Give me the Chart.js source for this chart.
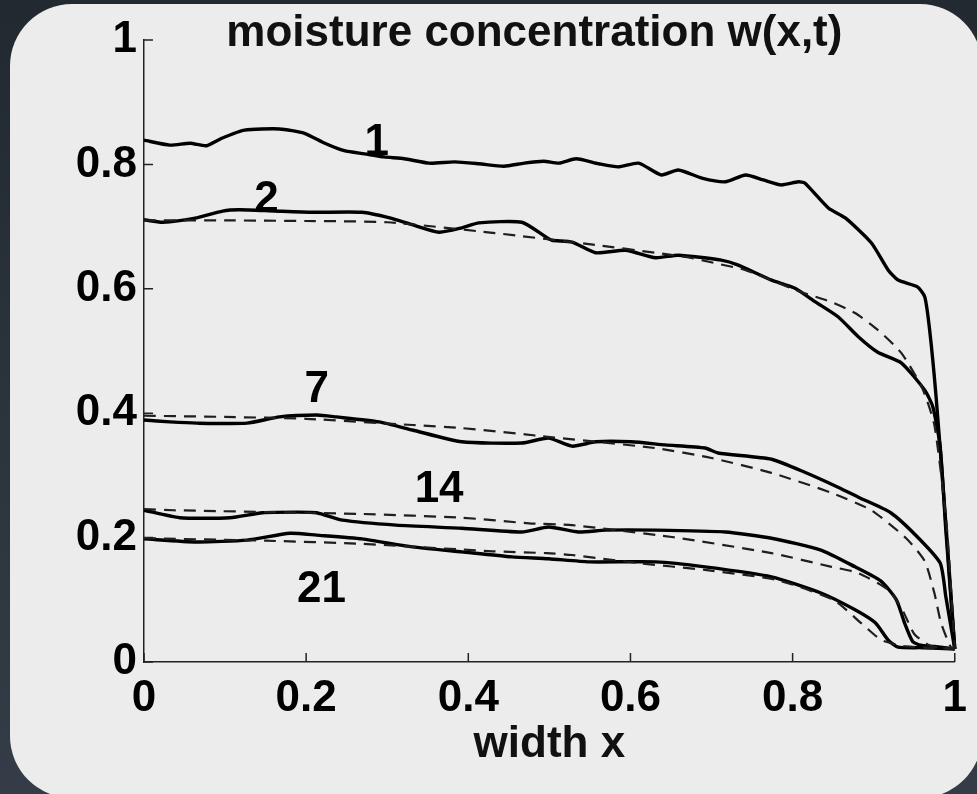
<!DOCTYPE html>
<html>
<head>
<meta charset="utf-8">
<script src="https://cdn.jsdelivr.net/npm/chart.js@4"></script>
<style>
  html, body { margin: 0; padding: 0; }
  body {
    width: 977px; height: 794px; overflow: hidden; position: relative;
    background: linear-gradient(#222930, #343d47);
  }
  #panel {
    position: absolute; left: 10px; top: 4px; width: 972px; height: 794px;
    background: #ececec; border-radius: 62px;
  }
  #wrap { position: absolute; left: 0; top: 0; width: 977px; height: 794px; }
</style>
</head>
<body>
<div id="panel"></div>
<div id="wrap"><canvas id="moistureChart" width="977" height="794"></canvas></div>
<script>
// measured profiles, one per day (solid) and model fits (dashed)
const curve1X = [0, 0.032, 0.057, 0.077, 0.096, 0.124, 0.167, 0.198, 0.223, 0.247, 0.272, 0.296, 0.321, 0.352, 0.383, 0.413, 0.444, 0.469, 0.493, 0.512, 0.533, 0.561, 0.585, 0.610, 0.638, 0.659, 0.688, 0.717, 0.742, 0.764, 0.786, 0.807, 0.815, 0.844, 0.865, 0.897, 0.918, 0.930, 0.954, 0.963, 0.969, 0.977, 0.988, 1.0];
const curve1Y = [0.839, 0.831, 0.834, 0.830, 0.842, 0.855, 0.857, 0.850, 0.834, 0.822, 0.817, 0.812, 0.809, 0.802, 0.804, 0.801, 0.797, 0.802, 0.805, 0.802, 0.809, 0.801, 0.796, 0.802, 0.783, 0.791, 0.778, 0.772, 0.783, 0.775, 0.767, 0.772, 0.770, 0.730, 0.714, 0.674, 0.630, 0.614, 0.603, 0.587, 0.534, 0.426, 0.240, 0.021];

const curve2X = [0, 0.023, 0.065, 0.097, 0.118, 0.161, 0.208, 0.269, 0.303, 0.331, 0.364, 0.392, 0.413, 0.466, 0.496, 0.503, 0.528, 0.557, 0.594, 0.631, 0.659, 0.712, 0.733, 0.774, 0.803, 0.828, 0.856, 0.881, 0.905, 0.934, 0.963, 0.973, 0.982, 0.989, 1.0];
const curve2Y = [0.711, 0.707, 0.714, 0.725, 0.727, 0.725, 0.723, 0.723, 0.714, 0.703, 0.691, 0.698, 0.706, 0.707, 0.683, 0.678, 0.675, 0.658, 0.662, 0.650, 0.654, 0.646, 0.638, 0.614, 0.601, 0.579, 0.555, 0.523, 0.498, 0.481, 0.437, 0.410, 0.346, 0.212, 0.021];
const model2X = [0, 0.1, 0.2, 0.3, 0.43, 0.56, 0.63, 0.67, 0.705, 0.742, 0.81, 0.847, 0.877, 0.905, 0.934, 0.96, 0.975, 0.99, 1.0];
const model2Y = [0.710, 0.710, 0.709, 0.707, 0.690, 0.670, 0.658, 0.651, 0.641, 0.630, 0.595, 0.579, 0.561, 0.534, 0.497, 0.440, 0.380, 0.220, 0.021];

const curve7X = [0, 0.032, 0.065, 0.127, 0.167, 0.213, 0.237, 0.290, 0.331, 0.392, 0.466, 0.499, 0.528, 0.557, 0.601, 0.643, 0.692, 0.708, 0.774, 0.815, 0.856, 0.881, 0.921, 0.954, 0.982, 0.989, 1.0];
const curve7Y = [0.389, 0.386, 0.384, 0.384, 0.394, 0.397, 0.394, 0.386, 0.373, 0.354, 0.352, 0.360, 0.347, 0.354, 0.354, 0.349, 0.344, 0.336, 0.326, 0.305, 0.281, 0.265, 0.240, 0.201, 0.159, 0.105, 0.021];
const model7X = [0, 0.1, 0.2, 0.331, 0.392, 0.47, 0.49, 0.63, 0.70, 0.774, 0.848, 0.897, 0.94, 0.963, 0.975, 0.983, 0.995, 1.0];
const model7Y = [0.396, 0.394, 0.391, 0.381, 0.376, 0.366, 0.363, 0.344, 0.328, 0.304, 0.272, 0.244, 0.199, 0.162, 0.110, 0.063, 0.024, 0.021];

const curve14X = [0, 0.044, 0.106, 0.146, 0.188, 0.213, 0.245, 0.311, 0.392, 0.466, 0.499, 0.536, 0.569, 0.631, 0.717, 0.774, 0.835, 0.877, 0.909, 0.928, 0.938, 0.948, 0.958, 0.975, 1.0];
const curve14Y = [0.244, 0.232, 0.232, 0.240, 0.241, 0.240, 0.228, 0.220, 0.215, 0.209, 0.217, 0.209, 0.212, 0.212, 0.209, 0.199, 0.180, 0.153, 0.130, 0.100, 0.063, 0.033, 0.027, 0.025, 0.021];
const model14X = [0, 0.036, 0.269, 0.392, 0.475, 0.528, 0.651, 0.774, 0.848, 0.881, 0.918, 0.935, 0.95, 0.97, 1.0];
const model14Y = [0.246, 0.244, 0.238, 0.232, 0.223, 0.220, 0.201, 0.175, 0.153, 0.143, 0.116, 0.085, 0.045, 0.026, 0.021];

const curve21X = [0, 0.065, 0.127, 0.180, 0.213, 0.269, 0.331, 0.392, 0.454, 0.499, 0.549, 0.631, 0.692, 0.774, 0.835, 0.877, 0.902, 0.918, 0.930, 0.960, 1.0];
const curve21Y = [0.198, 0.193, 0.196, 0.207, 0.204, 0.198, 0.185, 0.177, 0.169, 0.166, 0.161, 0.161, 0.153, 0.137, 0.111, 0.084, 0.063, 0.035, 0.024, 0.023, 0.021];
const model21X = [0, 0.15, 0.269, 0.43, 0.497, 0.528, 0.61, 0.692, 0.78, 0.85, 0.885, 0.91, 0.94, 1.0];
const model21Y = [0.199, 0.195, 0.190, 0.178, 0.175, 0.172, 0.159, 0.148, 0.132, 0.100, 0.062, 0.035, 0.025, 0.021];

// curve labels (days), placed at their baseline in data units
const dayLabels = ['1', '2', '7', '14', '21'];
const dayLabelX = [0.287, 0.151, 0.213, 0.364, 0.219];
const dayLabelY = [0.815, 0.723, 0.418, 0.257, 0.096];

const xTicks = [0, 0.2, 0.4, 0.6, 0.8, 1];
const yTicks = [0, 0.2, 0.4, 0.6, 0.8, 1];
const chartTitle = 'moisture concentration w(x,t)';
const xTitle = 'width x';

const FONT = "'Liberation Sans', Arial, Helvetica, sans-serif";

function pts(xs, ys) {
    return xs.map((x, i) => ({x: x, y: ys[i]}));
}

function solid(xs, ys) {
    return {data: pts(xs, ys), showLine: true, borderColor: '#000', borderWidth: 3.4,
            pointRadius: 0, tension: 0.2, clip: false};
}

function dashed(xs, ys) {
    return {data: pts(xs, ys), showLine: true, borderColor: '#1e1e1e', borderWidth: 2.2,
            borderDash: [12, 8], pointRadius: 0, tension: 0.2, clip: false};
}

// MATLAB style ticks pointing into the axes, plus title and curve labels
const decorPlugin = {
    id: 'decor',
    afterDraw(chart) {
        const ctx = chart.ctx;
        const a = chart.chartArea;
        const xs = chart.scales.x, ys = chart.scales.y;
        ctx.save();
        ctx.strokeStyle = '#222';
        ctx.lineWidth = 1.5;
        ctx.beginPath();
        xTicks.forEach(v => {
            const px = xs.getPixelForValue(v);
            ctx.moveTo(px, a.bottom);
            ctx.lineTo(px, a.bottom - 9);
        });
        yTicks.forEach(v => {
            const py = ys.getPixelForValue(v);
            ctx.moveTo(a.left, py);
            ctx.lineTo(a.left + 9, py);
        });
        ctx.stroke();

        ctx.fillStyle = '#000';
        ctx.textBaseline = 'alphabetic';
        ctx.textAlign = 'center';
        ctx.font = 'bold 44px ' + FONT;
        dayLabels.forEach((t, i) => {
            ctx.fillText(t, xs.getPixelForValue(dayLabelX[i]), ys.getPixelForValue(dayLabelY[i]));
        });

        ctx.fillStyle = '#111';
        ctx.fillText(chartTitle, (a.left + a.right) / 2 - 15, a.top + 6);
        ctx.fillText(xTitle, (a.left + a.right) / 2, a.bottom + 95);
        ctx.restore();
    }
};

const ctx = document.getElementById('moistureChart').getContext('2d');
const chart = new Chart(ctx, {
    type: 'scatter',
    data: {
        datasets: [
            dashed(model2X, model2Y),
            dashed(model7X, model7Y),
            dashed(model14X, model14Y),
            dashed(model21X, model21Y),
            solid(curve1X, curve1Y),
            solid(curve2X, curve2Y),
            solid(curve7X, curve7Y),
            solid(curve14X, curve14Y),
            solid(curve21X, curve21Y)
        ]
    },
    options: {
        responsive: false,
        animation: false,
        devicePixelRatio: 1,
        layout: {padding: {left: 0, right: 20, top: 40, bottom: 0}},
        scales: {
            x: {
                type: 'linear', position: 'bottom', min: 0, max: 1,
                afterBuildTicks: s => { s.ticks = xTicks.map(v => ({value: v})); },
                afterFit: s => { s.height = 132; },
                grid: {drawOnChartArea: false, drawTicks: false},
                border: {display: true, color: '#222', width: 1.5},
                ticks: {
                    color: '#000', padding: 10, maxRotation: 0,
                    font: {family: FONT, size: 44, weight: 'bold'},
                    callback: v => String(+Number(v).toFixed(1))
                }
            },
            y: {
                type: 'linear', min: 0, max: 1,
                afterBuildTicks: s => { s.ticks = yTicks.map(v => ({value: v})); },
                afterFit: s => { s.width = 144; },
                grid: {drawOnChartArea: false, drawTicks: false},
                border: {display: true, color: '#222', width: 1.5},
                ticks: {
                    color: '#000', padding: 7,
                    font: {family: FONT, size: 44, weight: 'bold'},
                    callback: v => String(+Number(v).toFixed(1))
                }
            }
        },
        plugins: {
            legend: {display: false},
            tooltip: {enabled: false}
        }
    },
    plugins: [decorPlugin]
});
</script>
</body>
</html>
